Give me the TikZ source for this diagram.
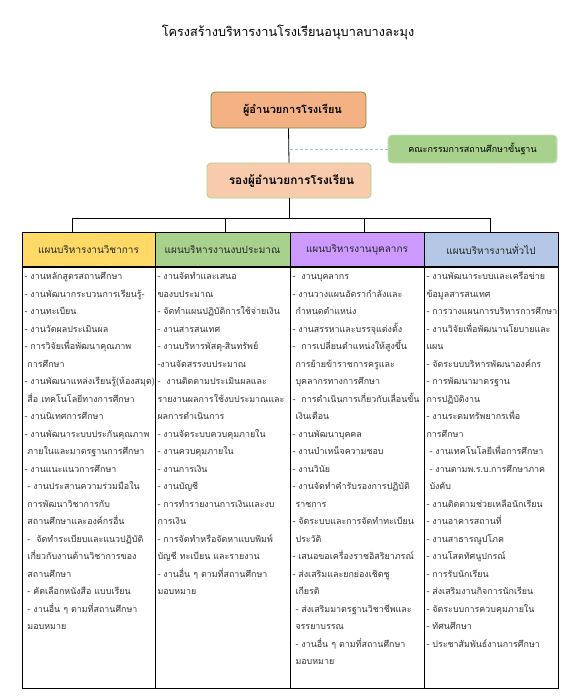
\documentclass[tikz,border=0pt]{standalone}
\usepackage{fontspec}
\setmainfont[Script=Thai]{Loma}
\usepackage{xcolor}
\usetikzlibrary{positioning}

\definecolor{bossfill}{HTML}{F4B183}
\definecolor{bossline}{HTML}{6E8B3D}
\definecolor{deputyfill}{HTML}{F8CBAD}
\definecolor{deputyline}{HTML}{A9D18E}
\definecolor{boardfill}{HTML}{A9D18E}
\definecolor{boardline}{HTML}{C5E0B4}
\definecolor{dashblue}{HTML}{9DC3E6}
\definecolor{acadfill}{HTML}{FFD966}
\definecolor{budgetfill}{HTML}{A9D18E}
\definecolor{staffill}{HTML}{CC99FF}
\definecolor{generalfill}{HTML}{B4C7E7}

\begin{document}
\begin{tikzpicture}[x=1pt, y=-1pt,
    box/.style={draw, rounded corners=4pt, line width=0.8pt, align=center},
    planhead/.style={draw=black, line width=0.8pt, minimum height=34pt, inner sep=0pt,
        font=\fontsize{10}{12}\selectfont, text=black!85},
    planbody/.style={draw=black, line width=0.8pt, anchor=north west, inner xsep=2.5pt,
        inner ysep=0pt, font=\fontsize{8.9}{17.5}\selectfont, text=black!80},
    link/.style={line width=0.8pt}]

    \useasboundingbox (0,0) rectangle (576,697);

    % =================================================================
    % 1. TITLE AND TOP BOXES
    % =================================================================
    \node[font=\fontsize{12.7}{15}\selectfont] (title) at (288,32)
        {โครงสร้างบริหารงานโรงเรียนอนุบาลบางละมุง};

    \node[box, fill=bossfill, draw=bossline, minimum width=155pt, minimum height=36pt,
        font=\bfseries\fontsize{11}{13}\selectfont] (boss) at (288.5,110)
        {\hspace{8pt}ผู้อำนวยการโรงเรียน};
    \node[box, fill=boardfill, draw=boardline, minimum width=169pt, minimum height=28pt,
        font=\fontsize{9}{11}\selectfont] (board) at (472.5,149)
        {คณะกรรมการสถานศึกษาขั้นฐาน};
    \node[box, fill=deputyfill, draw=deputyline, minimum width=164pt, minimum height=35pt,
        font=\bfseries\fontsize{11.8}{14}\selectfont] (deputy) at (289,180.5)
        {\hspace{5pt}รองผู้อำนวยการโรงเรียน};

    % =================================================================
    % 2. FOUR PLAN HEADERS
    % =================================================================
    \node[planhead, fill=acadfill, minimum width=133pt] (head1) at (88.5,249.5)
        {แผนบริหารงานวิชาการ};
    \node[planhead, fill=budgetfill, minimum width=135pt] (head2) at (222.5,249.5)
        {แผนบริหารงานงบประมาณ};
    \node[planhead, fill=staffill, minimum width=134pt] (head3) at (357,249.5)
        {แผนบริหารงานบุคลากร};
    \node[planhead, fill=generalfill, minimum width=134pt] (head4) at (491,249.5)
        {แผนบริหารงานทั่วไป};

    % =================================================================
    % 3. CONNECTING LINES
    % =================================================================
    \coordinate (bus) at (289,218);
    \coordinate (tick1) at (72,218);
    \coordinate (tick2) at (225,218);
    \coordinate (tick3) at (364,218);
    \coordinate (tick4) at (490,218);

    \draw[link] (boss.south) -- (deputy.north);
    \draw[densely dashed, draw=dashblue, line width=0.6pt] (board.west) -- (board.west -| boss.south);
    \draw[link] (deputy.south) -- (bus);
    \draw[link] (tick1) -- (tick4);
    \foreach \t/\h in {tick1/head1, tick2/head2, tick3/head3, tick4/head4}
        \draw[link] (\t) -- (\t |- \h.north);

    % =================================================================
    % 4. TASK LISTS UNDER EACH PLAN
    % =================================================================
    \node[planbody] (body1) at (head1.south west) {\parbox[t][421.5pt][t]{128pt}{%
        \begin{tabular}[t]{@{}l@{}}
        - งานหลักสูตรสถานศึกษา\\
        - งานพัฒนากระบวนการเรียนรู้-\\
        - งานทะเบียน\\
        - งานวัดผลประเมินผล\\
        - การวิจัยเพื่อพัฒนาคุณภาพ\\
        \ การศึกษา\\
        - งานพัฒนาแหล่งเรียนรู้(ห้องสมุด)\\
        \ สื่อ เทคโนโลยีทางการศึกษา\\
        - งานนิเทศการศึกษา\\
        - งานพัฒนาระบบประกันคุณภาพ\\
        \ ภายในและมาตรฐานการศึกษา\\
        - งานแนะแนวการศึกษา\\
        \ - งานประสานความร่วมมือใน\\
        \ การพัฒนาวิชาการกับ\\
        \ สถานศึกษาและองค์กรอื่น\\
        \ -\ \ จัดทำระเบียบและแนวปฏิบัติ\\
        \ เกี่ยวกับงานด้านวิชาการของ\\
        \ สถานศึกษา\\
        \ - คัดเลือกหนังสือ แบบเรียน\\
        \ - งานอื่น ๆ ตามที่สถานศึกษา\\
        \ มอบหมาย
        \end{tabular}}};

    \node[planbody] (body2) at (head2.south west) {\parbox[t][421.5pt][t]{130pt}{%
        \begin{tabular}[t]{@{}l@{}}
        - งานจัดทำและเสนอ\\
        ของบประมาณ\\
        - จัดทำแผนปฏิบัติการใช้จ่ายเงิน\\
        - งานสารสนเทศ\\
        - งานบริหารพัสดุ-สินทรัพย์\\
        -งานจัดสรรงบประมาณ\\
        -\ \ งานติดตามประเมินผลและ\\
        รายงานผลการใช้งบประมาณและ\\
        ผลการดำเนินการ\\
        - งานจัดระบบควบคุมภายใน\\
        - งานควบคุมภายใน\\
        - งานการเงิน\\
        - งานบัญชี\\
        - การทำรายงานการเงินและงบ\\
        การเงิน\\
        - การจัดทำหรือจัดหาแบบพิมพ์\\
        บัญชี ทะเบียน และรายงาน\\
        - งานอื่น ๆ ตามที่สถานศึกษา\\
        มอบหมาย
        \end{tabular}}};

    \node[planbody] (body3) at (head3.south west) {\parbox[t][421.5pt][t]{129pt}{%
        \begin{tabular}[t]{@{}l@{}}
        -\ \ งานบุคลากร\\
        - งานวางแผนอัตรากำลังและ\\
        \ กำหนดตำแหน่ง\\
        - งานสรรหาและบรรจุแต่งตั้ง\\
        -\ \ การเปลี่ยนตำแหน่งให้สูงขึ้น\\
        \ การย้ายข้าราชการครูและ\\
        \ บุคลากรทางการศึกษา\\
        -\ \ การดำเนินการเกี่ยวกับเลื่อนขั้น\\
        \ เงินเดือน\\
        - งานพัฒนาบุคคล\\
        - งานบำเหน็จความชอบ\\
        - งานวินัย\\
        - งานจัดทำคำรับรองการปฏิบัติ\\
        \ ราชการ\\
        - จัดระบบและการจัดทำทะเบียน\\
        \ ประวัติ\\
        - เสนอขอเครื่องราชอิสริยาภรณ์\\
        - ส่งเสริมและยกย่องเชิดชู\\
        \ เกียรติ\\
        \ - ส่งเสริมมาตรฐานวิชาชีพและ\\
        \ จรรยาบรรณ\\
        \ - งานอื่น ๆ ตามที่สถานศึกษา\\
        \ มอบหมาย
        \end{tabular}}};

    \node[planbody] (body4) at (head4.south west) {\parbox[t][421.5pt][t]{129pt}{%
        \begin{tabular}[t]{@{}l@{}}
        - งานพัฒนาระบบและเครือข่าย\\
        ข้อมูลสารสนเทศ\\
        - การวางแผนการบริหารการศึกษา\\
        - งานวิจัยเพื่อพัฒนานโยบายและ\\
        แผน\\
        - จัดระบบบริหารพัฒนาองค์กร\\
        - การพัฒนามาตรฐาน\\
        การปฏิบัติงาน\\
        - งานระดมทรัพยากรเพื่อ\\
        การศึกษา\\
        \ - งานเทคโนโลยีเพื่อการศึกษา\\
        \ - งานตามพ.ร.บ.การศึกษาภาค\\
        \ บังคับ\\
        - งานติดตามช่วยเหลือนักเรียน\\
        - งานอาคารสถานที่\\
        - งานสาธารณูปโภค\\
        - งานโสตทัศนูปกรณ์\\
        - การรับนักเรียน\\
        - ส่งเสริมงานกิจการนักเรียน\\
        - จัดระบบการควบคุมภายใน\\
        - ทัศนศึกษา\\
        - ประชาสัมพันธ์งานการศึกษา
        \end{tabular}}};

\end{tikzpicture}
\end{document}
